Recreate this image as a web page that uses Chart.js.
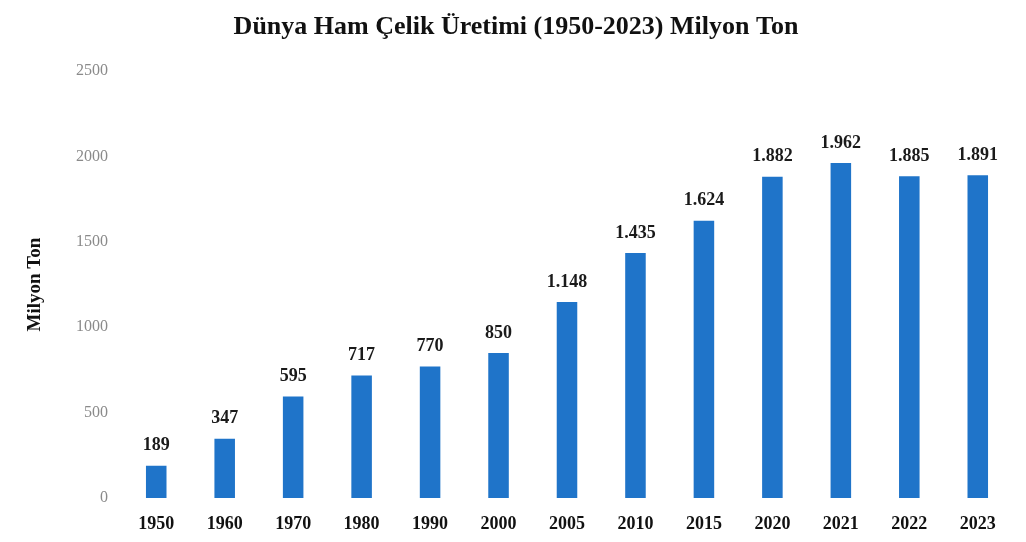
<!DOCTYPE html>
<html>
<head>
<meta charset="utf-8">
<script src="https://cdn.jsdelivr.net/npm/chart.js@4/dist/chart.umd.min.js"></script>
<style>
  html, body { margin: 0; padding: 0; background: #fff; }
  #wrap { width: 1026px; height: 542px; }
</style>
</head>
<body>
<div id="wrap"><canvas id="steelChart"></canvas></div>
<script>
// Dünya ham çelik üretimi, milyon ton
const years = ['1950', '1960', '1970', '1980', '1990', '2000', '2005', '2010', '2015', '2020', '2021', '2022', '2023'];
const production = [189, 347, 595, 717, 770, 850, 1148, 1435, 1624, 1882, 1962, 1885, 1891];
const yTicks = [0, 500, 1000, 1500, 2000, 2500];

const serif = "'Liberation Serif', 'DejaVu Serif', serif";

// nokta ile binlik ayırıcı: 1148 -> 1.148
function fmt(v) {
    return String(v).replace(/\B(?=(\d{3})+(?!\d))/g, '.');
}

// bar etiketleri
const barLabels = {
    id: 'barLabels',
    afterDatasetsDraw(chart) {
        const ctx = chart.ctx;
        const meta = chart.getDatasetMeta(0);
        ctx.save();
        ctx.font = 'bold 18px ' + serif;
        ctx.fillStyle = '#1a1a1a';
        ctx.textAlign = 'center';
        ctx.textBaseline = 'bottom';
        meta.data.forEach((bar, i) => {
            ctx.fillText(fmt(production[i]), bar.x, bar.y - 11);
        });
        ctx.restore();
    }
};

const ctx = document.getElementById('steelChart').getContext('2d');
new Chart(ctx, {
    type: 'bar',
    data: {
        labels: years,
        datasets: [{
            label: 'Milyon Ton',
            data: production,
            backgroundColor: '#1f74c9',
            barPercentage: 0.3,
            categoryPercentage: 1.0
        }]
    },
    options: {
        responsive: true,
        maintainAspectRatio: false,
        animation: false,
        layout: {
            padding: { left: 20, right: 14, top: 0, bottom: 0 }
        },
        plugins: {
            legend: { display: false },
            tooltip: { enabled: false },
            title: {
                display: true,
                text: 'Dünya Ham Çelik Üretimi (1950-2023) Milyon Ton',
                color: '#111',
                font: { family: serif, size: 26, weight: 'bold' },
                padding: { top: 12, bottom: 28 }
            }
        },
        scales: {
            x: {
                grid: { display: false, drawTicks: false },
                border: { display: false },
                afterFit: (scale) => { scale.height = 44; },
                ticks: {
                    color: '#111',
                    padding: 16,
                    font: { family: serif, size: 18, weight: 'bold' }
                }
            },
            y: {
                min: 0,
                max: 2500,
                afterBuildTicks: (scale) => {
                    scale.ticks = yTicks.map(v => ({ value: v }));
                },
                afterFit: (scale) => { scale.width = 102; },
                grid: { display: false, drawTicks: false },
                border: { display: false },
                ticks: {
                    color: '#8a8a8a',
                    padding: 14,
                    callback: (v) => String(v),
                    font: { family: serif, size: 16 }
                },
                title: {
                    display: true,
                    text: 'Milyon Ton',
                    color: '#111',
                    padding: { top: 4, bottom: 2 },
                    font: { family: serif, size: 19, weight: 'bold' }
                }
            }
        }
    },
    plugins: [barLabels]
});
</script>
</body>
</html>
